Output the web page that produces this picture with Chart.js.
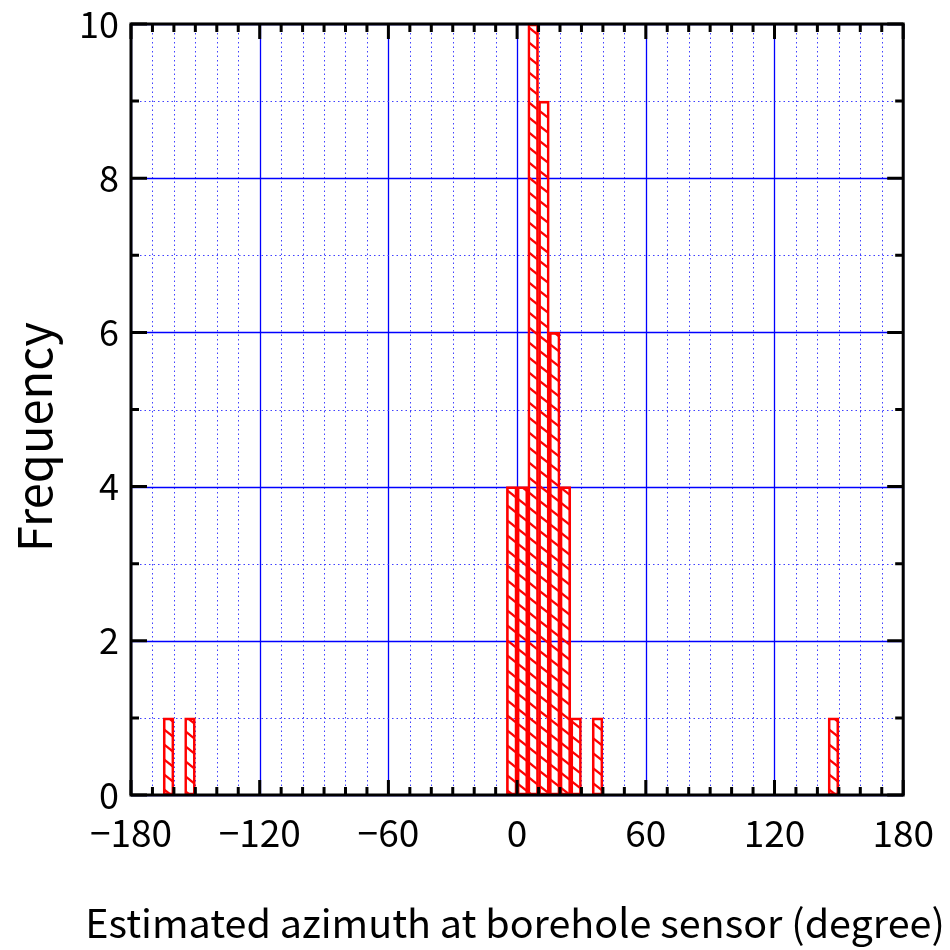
<!DOCTYPE html>
<html>
<head>
<meta charset="utf-8">
<script src="https://cdn.jsdelivr.net/npm/chart.js@4.4.1/dist/chart.umd.min.js"></script>
<style>
  body { margin: 0; background: #fff; }
  #wrap { width: 950px; height: 950px; }
</style>
</head>
<body>
<div id="wrap"><canvas id="chart"></canvas></div>
<script>
// histogram bins (left edge, degree) and their counts
const binLeft = [-165, -155, -5, 0, 5, 10, 15, 20, 25, 35, 145];
const counts = [1, 1, 4, 4, 10, 9, 6, 4, 1, 1, 1];
const binWidth = 5;
const xTickLabels = [-180, -120, -60, 0, 60, 120, 180];
const yTickLabels = [0, 2, 4, 6, 8, 10];
const xTitle = 'Estimated azimuth at borehole sensor (degree)';
const yTitle = 'Frequency';

const FONT = '"Noto Sans CJK JP", "Noto Sans", sans-serif';

function makeHatch() {
  const W = 19, H = 15;
  const c = document.createElement('canvas');
  c.width = W;
  c.height = H;
  const g = c.getContext('2d');
  g.strokeStyle = '#ff0000';
  g.lineWidth = 2.2;
  for (const k of [-1, 0, 1]) {
    g.beginPath();
    g.moveTo(-2, k * H - 2 * H / W);
    g.lineTo(W + 2, k * H + H + 2 * H / W);
    g.stroke();
  }
  return g.createPattern(c, 'repeat');
}

const gridPlugin = {
  id: 'gridLines',
  beforeDatasetsDraw(chart) {
    const { ctx, chartArea: a, scales: { x, y } } = chart;
    ctx.save();
    x.ticks.forEach((t) => {
      const px = Math.round(x.getPixelForValue(t.value)) + 0.5;
      const major = xTickLabels.includes(t.value);
      ctx.strokeStyle = major ? '#0000ff' : '#4040ff';
      ctx.lineWidth = major ? 1.3 : 1;
      ctx.setLineDash(major ? [] : [1.5, 3]);
      ctx.beginPath();
      ctx.moveTo(px, a.top);
      ctx.lineTo(px, a.bottom);
      ctx.stroke();
    });
    y.ticks.forEach((t) => {
      const py = Math.round(y.getPixelForValue(t.value)) + 0.5;
      const major = yTickLabels.includes(t.value);
      ctx.strokeStyle = major ? '#0000ff' : '#4040ff';
      ctx.lineWidth = major ? 1.3 : 1;
      ctx.setLineDash(major ? [] : [1.5, 3]);
      ctx.beginPath();
      ctx.moveTo(a.left, py);
      ctx.lineTo(a.right, py);
      ctx.stroke();
    });
    ctx.restore();
  },
  afterDatasetsDraw(chart) {
    const { ctx, chartArea: a, scales: { x, y } } = chart;
    ctx.save();
    ctx.strokeStyle = '#000';
    ctx.lineWidth = 3;
    ctx.setLineDash([]);
    x.ticks.forEach((t) => {
      const px = x.getPixelForValue(t.value);
      const len = xTickLabels.includes(t.value) ? 15 : 8;
      ctx.beginPath();
      ctx.moveTo(px, a.bottom);
      ctx.lineTo(px, a.bottom - len);
      ctx.moveTo(px, a.top);
      ctx.lineTo(px, a.top + len);
      ctx.stroke();
    });
    y.ticks.forEach((t) => {
      const py = y.getPixelForValue(t.value);
      const len = yTickLabels.includes(t.value) ? 16 : 8;
      ctx.beginPath();
      ctx.moveTo(a.left, py);
      ctx.lineTo(a.left + len, py);
      ctx.moveTo(a.right, py);
      ctx.lineTo(a.right - len, py);
      ctx.stroke();
    });
    ctx.strokeRect(a.left, a.top, a.right - a.left, a.bottom - a.top);

    // axis titles (drawn here so the long x title is not squeezed to the axis width)
    ctx.fillStyle = '#000';
    ctx.textAlign = 'center';
    ctx.textBaseline = 'alphabetic';
    ctx.font = '39.5px ' + FONT;
    ctx.fillText(xTitle, (a.left + a.right) / 2 - 2, 938);
    ctx.translate(52, 437);
    ctx.rotate(-Math.PI / 2);
    ctx.font = '47px ' + FONT;
    ctx.fillText(yTitle, 0, 0);
    ctx.restore();
  }
};

const fmt = (v) => (v < 0 ? '\u2212' + Math.abs(v) : String(v));

new Chart(document.getElementById('chart'), {
  type: 'bar',
  data: {
    datasets: [{
      data: binLeft.map((b, i) => ({ x: b + binWidth / 2, y: counts[i] })),
      backgroundColor: makeHatch(),
      borderColor: '#ff0000',
      borderWidth: 2,
      borderSkipped: false,
      barPercentage: 1,
      categoryPercentage: 1
    }]
  },
  options: {
    responsive: true,
    maintainAspectRatio: false,
    animation: false,
    layout: { padding: { top: 24, right: 46, left: 0, bottom: 0 } },
    plugins: { legend: { display: false }, tooltip: { enabled: false } },
    scales: {
      x: {
        type: 'linear',
        min: -180,
        max: 180,
        offset: false,
        grid: { display: false, drawTicks: false },
        border: { display: false },
        ticks: {
          stepSize: 10,
          autoSkip: false,
          maxRotation: 0,
          minRotation: 0,
          padding: 16,
          color: '#000',
          font: { family: FONT, size: 37 },
          callback: (v) => (xTickLabels.includes(v) ? fmt(v) : '')
        },
        afterFit: (s) => { s.height = 155; }
      },
      y: {
        min: 0,
        max: 10,
        grid: { display: false, drawTicks: false },
        border: { display: false },
        ticks: {
          stepSize: 1,
          autoSkip: false,
          padding: 12,
          color: '#000',
          font: { family: FONT, size: 36, lineHeight: 0.6 },
          callback: (v) => (yTickLabels.includes(v) ? String(v) : '')
        },
        afterFit: (s) => { s.width = 131; }
      }
    }
  },
  plugins: [gridPlugin]
});
</script>
</body>
</html>
